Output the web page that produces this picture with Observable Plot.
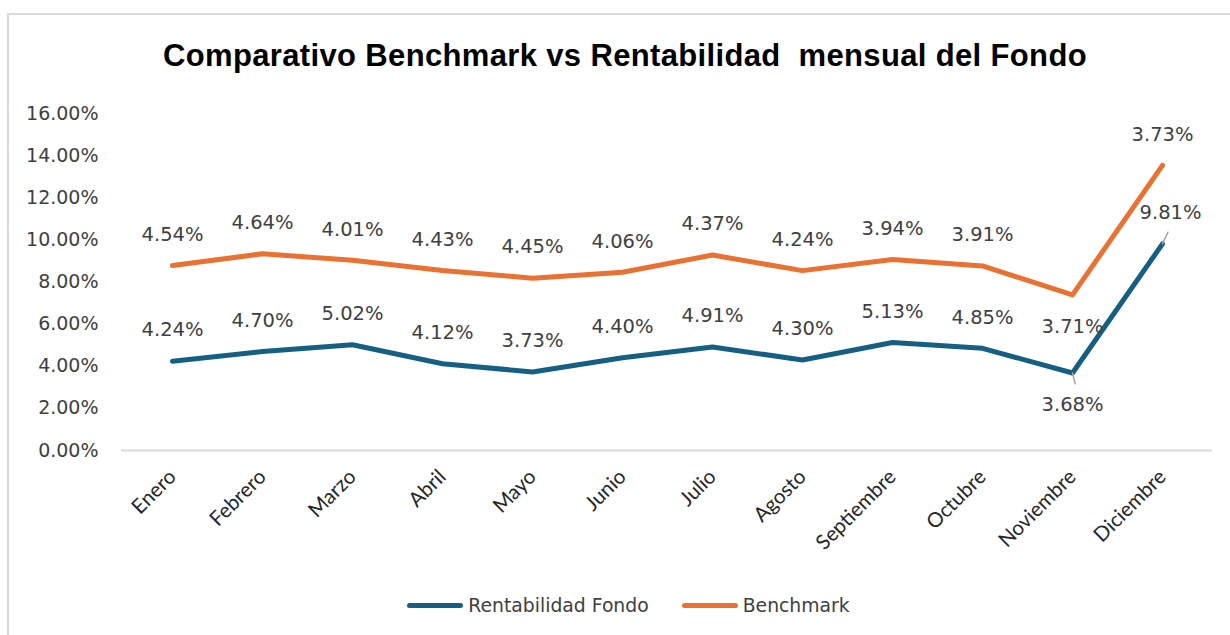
<!DOCTYPE html>
<html>
<head>
<meta charset="utf-8">
<script src="https://cdn.jsdelivr.net/npm/d3@7"></script>
<script src="https://cdn.jsdelivr.net/npm/@observablehq/plot@0.6"></script>
<style>
  html, body { margin: 0; padding: 0; background: #fff; }
  body { width: 1230px; height: 635px; overflow: hidden; position: relative; }
  #frame { position: absolute; left: 7px; top: 13px; width: 1300px; height: 700px;
           border-left: 2px solid #d9d9d9; border-top: 2px solid #d9d9d9; box-sizing: border-box; }
  #title { position: absolute; left: 0; width: 1250px; top: 38px; text-align: center;
           font-family: "Liberation Sans", Arial, sans-serif; font-weight: bold; font-size: 31px;
           letter-spacing: 0.35px; color: #000; line-height: 36px; white-space: pre; }
  #chart { position: absolute; left: 0; top: 90px; }
  #legend { position: absolute; left: 0; width: 1257px; top: 592px; height: 26px;
            display: flex; justify-content: center; align-items: center;
            font-family: "DejaVu Sans", sans-serif; font-size: 18.8px; color: #404040; }
  .item { display: flex; align-items: center; }
  .sw { width: 56px; height: 5px; border-radius: 3px; margin-right: 5px; }
  .gap { width: 33px; }
</style>
</head>
<body>
<div id="frame"></div>
<div id="title"></div>
<div id="chart"></div>
<div id="legend"></div>
<script>
const titulo = "Comparativo Benchmark vs Rentabilidad  mensual del Fondo";
const meses = ["Enero", "Febrero", "Marzo", "Abril", "Mayo", "Junio", "Julio", "Agosto", "Septiembre", "Octubre", "Noviembre", "Diciembre"];
const series = ["Rentabilidad Fondo", "Benchmark"];
const rentabilidadFondo = [4.24, 4.70, 5.02, 4.12, 3.73, 4.40, 4.91, 4.30, 5.13, 4.85, 3.68, 9.81];
const benchmark = [4.54, 4.64, 4.01, 4.43, 4.45, 4.06, 4.37, 4.24, 3.94, 3.91, 3.71, 3.73];
const yTicks = [0, 2, 4, 6, 8, 10, 12, 14, 16];
const colores = ["#156082", "#E97132"];

document.getElementById("title").textContent = titulo;

const rows = [
  ...meses.map((m, i) => ({mes: m, serie: series[0], valor: rentabilidadFondo[i]})),
  ...meses.map((m, i) => ({mes: m, serie: series[1], valor: benchmark[i]}))
];
const fmt = v => v.toFixed(2) + "%";
const below = d => d.mes === "Noviembre";
const shifted = d => d.mes === "Diciembre" && d.serie === series[0];
const leaders = rows.filter(d => d.serie === series[0] && (d.mes === "Noviembre" || d.mes === "Diciembre"));

const labelFont = {fontFamily: "DejaVu Sans", fontSize: 19.5, fill: "#404040"};

const chart = Plot.plot({
  width: 1230,
  height: 480,
  marginTop: 23,
  marginBottom: 120,
  marginLeft: 121,
  marginRight: 18,
  style: {background: "transparent", overflow: "visible"},
  x: {type: "point", domain: meses, padding: 0.5, label: null},
  y: {domain: [0, 16], label: null},
  color: {domain: series, range: colores},
  marks: [
    Plot.ruleY([0], {stroke: "#d9d9d9", strokeWidth: 2}),
    Plot.axisY({ticks: yTicks, tickSize: 0, tickPadding: 23, tickFormat: fmt, label: null,
                fontFamily: "DejaVu Sans", fontSize: 19, color: "#404040"}),
    Plot.axisX({tickRotate: -45, tickSize: 0, tickPadding: 23, label: null,
                fontFamily: "Lato", fontSize: 20.5, color: "#262626"}),
    Plot.lineY(rows, Plot.stackY2({x: "mes", y: "valor", z: "serie", stroke: "serie",
                strokeWidth: 5, strokeLinecap: "round", strokeLinejoin: "round"})),
    Plot.vector(leaders, {x: "mes", y: "valor", anchor: "start",
                length: d => d.mes === "Noviembre" ? 12 : 14,
                rotate: d => d.mes === "Noviembre" ? 166 : 25,
                stroke: "#a6a6a6", strokeWidth: 1.5,
                shape: {draw(ctx, l) { ctx.moveTo(0, 0); ctx.lineTo(0, -l); }}}),
    Plot.text(rows, Plot.stackY2({x: "mes", y: "valor", z: "serie",
                text: d => (below(d) || shifted(d)) ? "" : fmt(d.valor), dy: -31, ...labelFont})),
    Plot.text(rows, Plot.stackY2({x: "mes", y: "valor", z: "serie",
                text: d => below(d) ? fmt(d.valor) : "", dy: 32, ...labelFont})),
    Plot.text(rows, Plot.stackY2({x: "mes", y: "valor", z: "serie",
                text: d => shifted(d) ? fmt(d.valor) : "", dx: 8, dy: -31, ...labelFont}))
  ]
});
document.getElementById("chart").appendChild(chart);

const legend = document.getElementById("legend");
series.forEach((s, i) => {
  if (i > 0) { const g = document.createElement("div"); g.className = "gap"; legend.appendChild(g); }
  const item = document.createElement("div"); item.className = "item";
  const sw = document.createElement("div"); sw.className = "sw"; sw.style.background = colores[i];
  const t = document.createElement("span"); t.textContent = s;
  item.appendChild(sw); item.appendChild(t); legend.appendChild(item);
});
</script>
</body>
</html>
